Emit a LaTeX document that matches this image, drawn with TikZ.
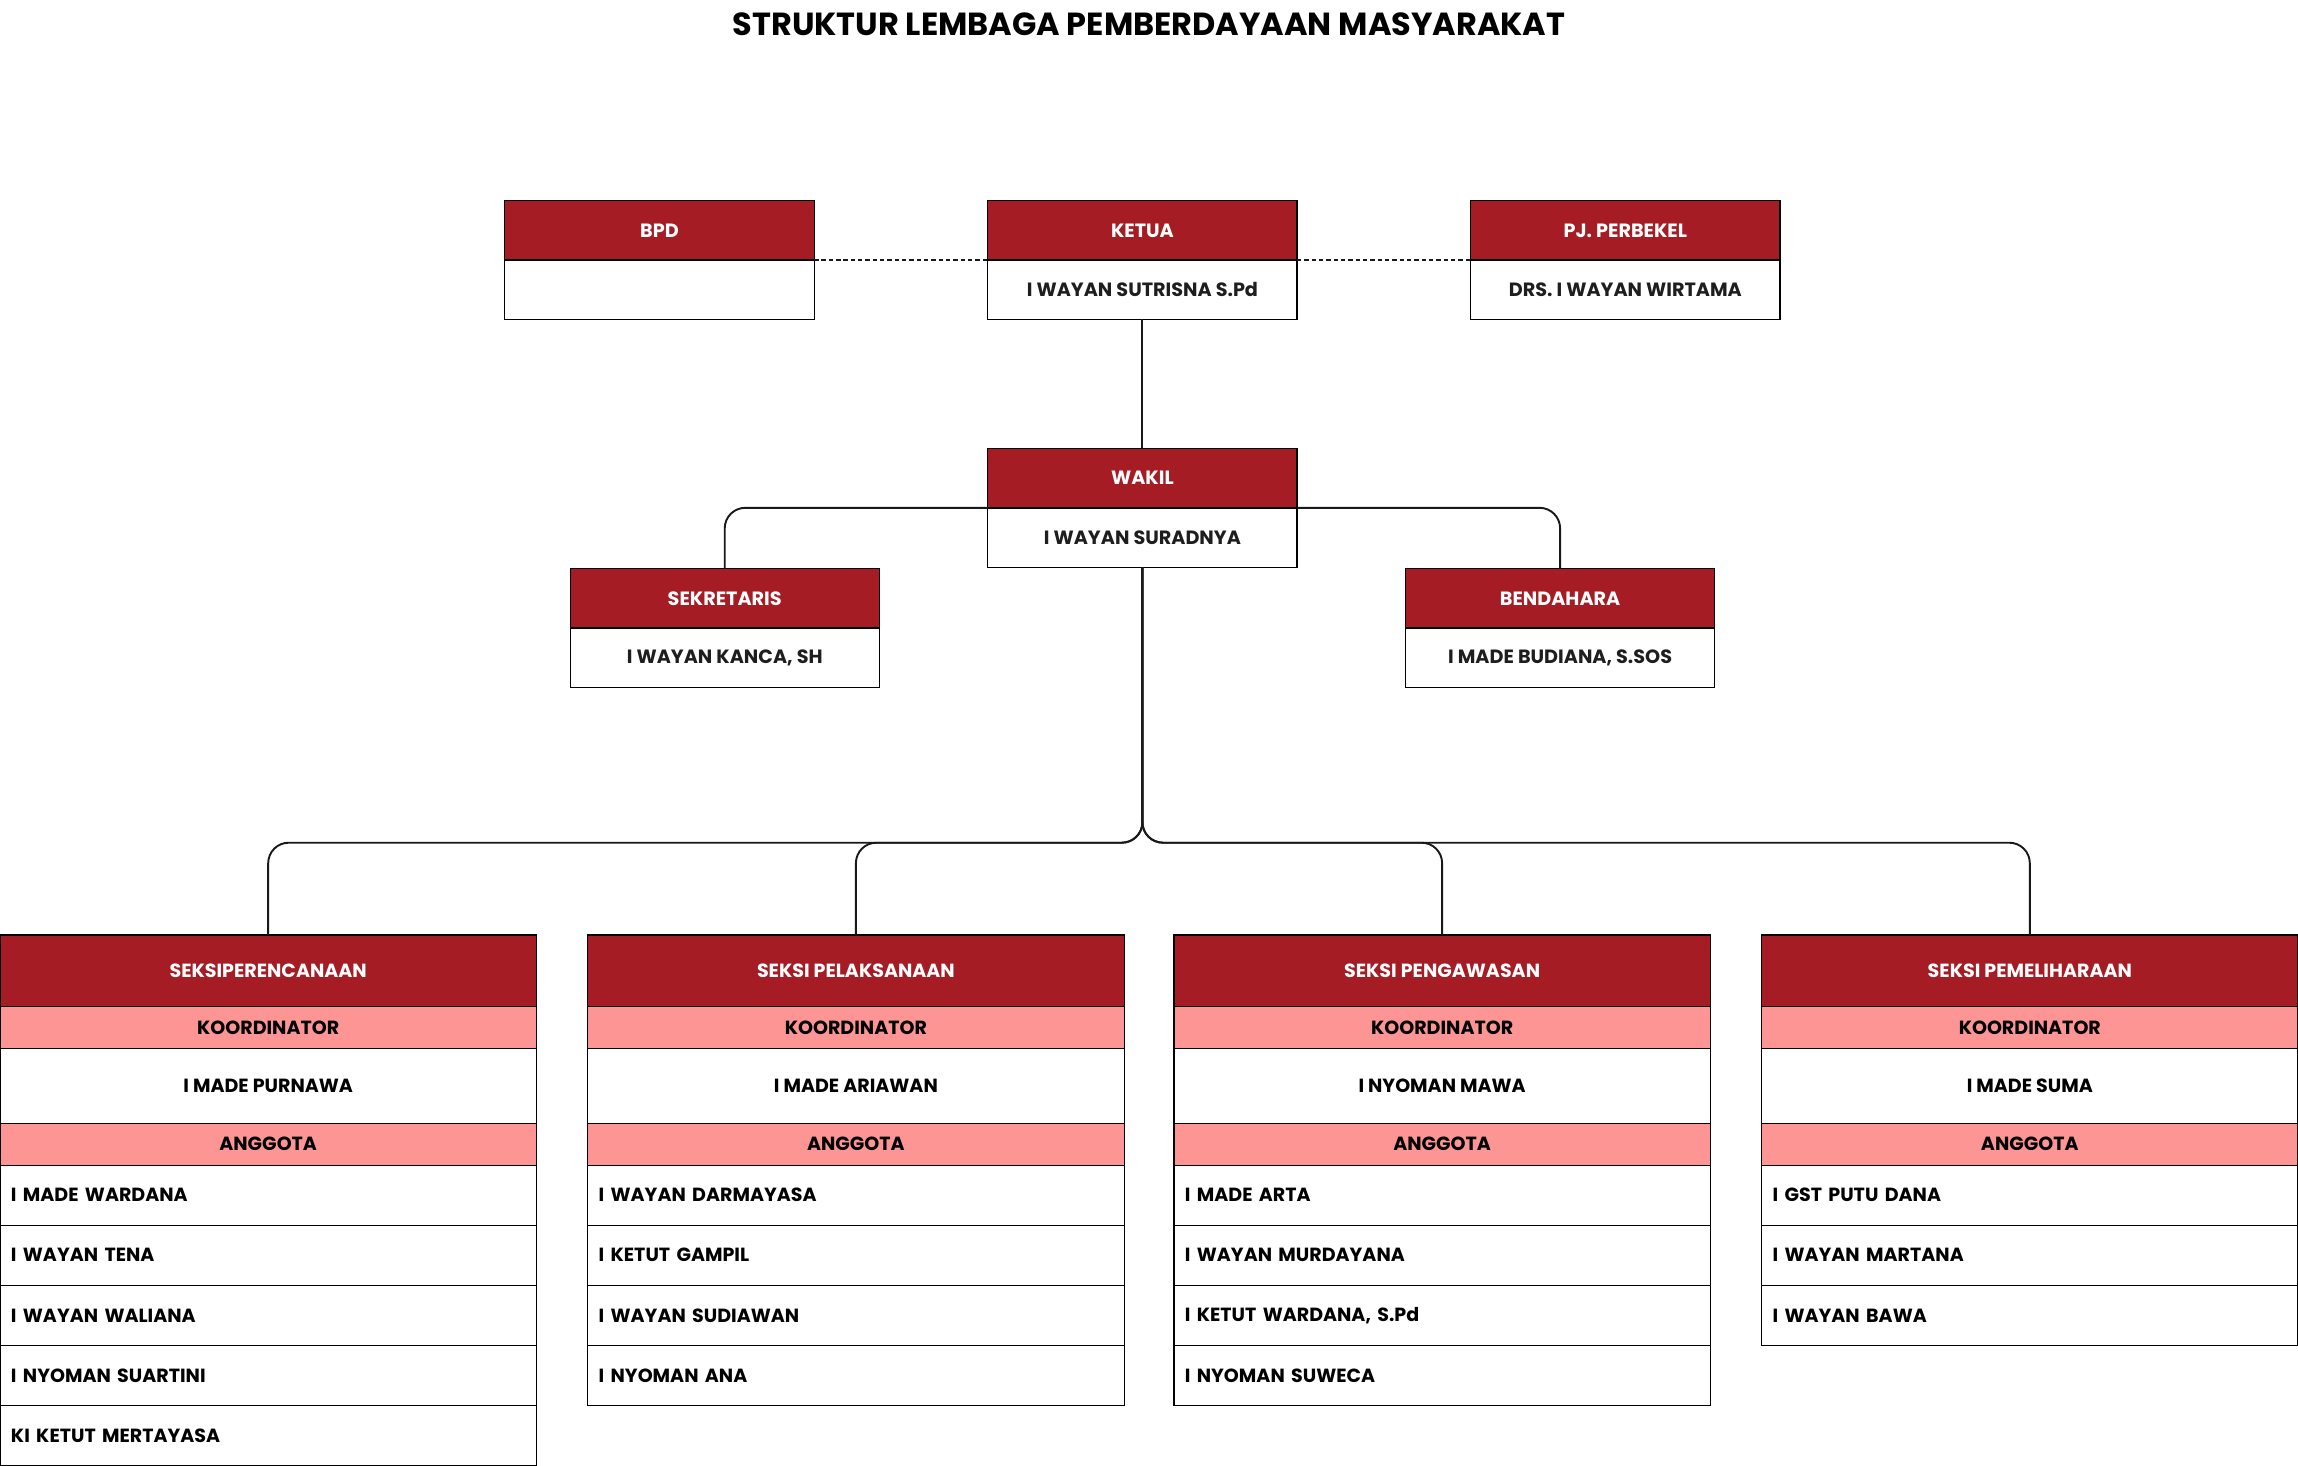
\documentclass[tikz,border=0pt]{standalone}
\usepackage{fontspec}
\setmainfont{Poppins}
\definecolor{dred}{HTML}{A51C24}
\definecolor{lpink}{HTML}{FE9595}
\definecolor{txt}{HTML}{1E1E1E}
\tikzset{
  topfont/.style={font=\bfseries\fontsize{13.1}{15}\selectfont},
  colfont/.style={font=\bfseries\fontsize{13}{15}\selectfont},
  tophdr/.style={draw=black, line width=0.8pt, outer sep=0pt, fill=dred, text=white, minimum width=211pt, minimum height=40.5pt, inner sep=0pt, anchor=north, topfont},
  topnm/.style={draw=black, line width=0.8pt, outer sep=0pt, fill=white, text=txt, minimum width=211pt, minimum height=40.5pt, inner sep=0pt, anchor=north, topfont},
  colhdr/.style={draw=black, line width=0.8pt, outer sep=0pt, fill=dred, text=white, minimum width=366pt, minimum height=49pt, inner sep=0pt, anchor=north, colfont},
  band/.style={draw=black, line width=0.8pt, outer sep=0pt, fill=lpink, text=black, minimum width=366pt, minimum height=28.5pt, inner sep=0pt, anchor=north, colfont},
  coord/.style={draw=black, line width=0.8pt, outer sep=0pt, fill=white, text=black, minimum width=366pt, minimum height=51pt, inner sep=0pt, anchor=north, colfont},
  member/.style={draw=black, line width=0.8pt, outer sep=0pt, fill=white, text=black, text width=351pt, align=left, inner xsep=7.5pt, inner ysep=0pt, minimum height=41pt, anchor=north, colfont},
  conn/.style={draw=black!90, line width=1.3pt},
  divline/.style={line width=1.6pt, black}
}
\newcommand{\topbox}[5]{%
  \node[tophdr] (#1-h) at (#2,#3) {#4};
  \node[topnm] (#1-n) at (#1-h.south) {#5};
  \draw[divline] (#1-h.south west) -- (#1-h.south east);
}
\begin{document}
\begin{tikzpicture}[x=1pt,y=-1pt]
\useasboundingbox[fill=white] (0,0) rectangle (1568,1000);
\node[font=\bfseries\fontsize{21.8}{26}\selectfont, text=black] (title) at (784,16.5) {STRUKTUR LEMBAGA PEMBERDAYAAN MASYARAKAT};

\topbox{bpd}{450}{137}{BPD}{}
\topbox{ketua}{779.5}{137}{KETUA}{I WAYAN SUTRISNA S.Pd}
\topbox{pj}{1109}{137}{PJ. PERBEKEL}{DRS. I WAYAN WIRTAMA}
\topbox{wakil}{779.5}{306}{WAKIL}{I WAYAN SURADNYA}
\topbox{sek}{494.5}{388}{SEKRETARIS}{I WAYAN KANCA, SH}
\topbox{ben}{1064.5}{388}{BENDAHARA}{I MADE BUDIANA, S.SOS}

\draw[conn, dashed, dash pattern=on 3pt off 2pt, line width=1pt] (bpd-h.south east) -- (ketua-h.south west);
\draw[conn, dashed, dash pattern=on 3pt off 2pt, line width=1pt] (ketua-h.south east) -- (pj-h.south west);
\draw[conn] (ketua-n.south) -- (wakil-h.north);
\draw[conn, rounded corners=14pt] (wakil-h.south west) -| (sek-h.north);
\draw[conn, rounded corners=14pt] (wakil-h.south east) -| (ben-h.north);

% columns
\node[colhdr] (c1-h) at (183,638) {SEKSIPERENCANAAN};
\node[colhdr] (c2-h) at (584,638) {SEKSI PELAKSANAAN};
\node[colhdr] (c3-h) at (984,638) {SEKSI PENGAWASAN};
\node[colhdr] (c4-h) at (1385,638) {SEKSI PEMELIHARAAN};

\foreach \c/\k in {c1/I MADE PURNAWA, c2/I MADE ARIAWAN, c3/I NYOMAN MAWA, c4/I MADE SUMA}{
  \node[band] (\c-kb) at (\c-h.south) {KOORDINATOR};
  \node[coord] (\c-k) at (\c-kb.south) {\k};
  \node[band] (\c-ab) at (\c-k.south) {ANGGOTA};
}

\node[member] (c1-m1) at (c1-ab.south) {I MADE WARDANA};
\node[member] (c1-m2) at (c1-m1.south) {I WAYAN TENA};
\node[member] (c1-m3) at (c1-m2.south) {I WAYAN WALIANA};
\node[member] (c1-m4) at (c1-m3.south) {I NYOMAN SUARTINI};
\node[member] (c1-m5) at (c1-m4.south) {KI KETUT MERTAYASA};

\node[member] (c2-m1) at (c2-ab.south) {I WAYAN DARMAYASA};
\node[member] (c2-m2) at (c2-m1.south) {I KETUT GAMPIL};
\node[member] (c2-m3) at (c2-m2.south) {I WAYAN SUDIAWAN};
\node[member] (c2-m4) at (c2-m3.south) {I NYOMAN ANA};

\node[member] (c3-m1) at (c3-ab.south) {I MADE ARTA};
\node[member] (c3-m2) at (c3-m1.south) {I WAYAN MURDAYANA};
\node[member] (c3-m3) at (c3-m2.south) {I KETUT WARDANA, S.Pd};
\node[member] (c3-m4) at (c3-m3.south) {I NYOMAN SUWECA};

\node[member] (c4-m1) at (c4-ab.south) {I GST PUTU DANA};
\node[member] (c4-m2) at (c4-m1.south) {I WAYAN MARTANA};
\node[member] (c4-m3) at (c4-m2.south) {I WAYAN BAWA};

\coordinate (junc) at (779.5,575);
\foreach \c in {c1,c2,c3,c4}{
  \draw[conn, rounded corners=14pt] (wakil-n.south) -- (junc) -| (\c-h.north);
}
\end{tikzpicture}
\end{document}
